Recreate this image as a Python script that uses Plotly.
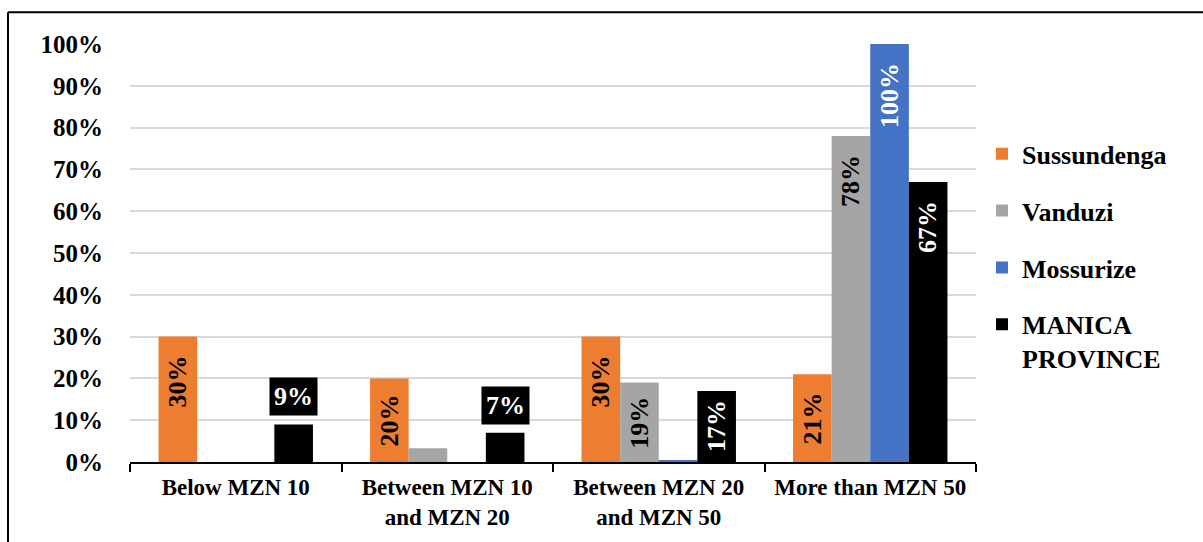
import plotly.graph_objects as go

# ---- data -------------------------------------------------------------
CATEGORIES = [
    "Below MZN 10",
    "Between MZN 10<br>and MZN 20",
    "Between MZN 20<br>and MZN 50",
    "More than MZN 50",
]
SERIES_NAMES = ["Sussundenga", "Vanduzi", "Mossurize", "MANICA<br>PROVINCE"]
SUSSUNDENGA = [0.30, 0.20, 0.30, 0.21]
VANDUZI = [0.00, 0.033, 0.19, 0.78]
MOSSURIZE = [0.00, 0.00, 0.005, 1.00]
MANICA_PROVINCE = [0.09, 0.07, 0.17, 0.67]
Y_TICKS = [i / 10 for i in range(11)]

SERIES_VALUES = [SUSSUNDENGA, VANDUZI, MOSSURIZE, MANICA_PROVINCE]
COLORS = ["#ED7D31", "#A5A5A5", "#4472C4", "#000000"]
LABEL_COLORS = ["#000000", "#000000", "#FFFFFF", "#FFFFFF"]

# ---- layout constants -------------------------------------------------
W, H = 1203, 542
L, R, T, B = 130, 227, 44, 77
PW, PH = W - L - R, H - T - B
BARGAP = 0.27
FONT = "Liberation Serif"

fig = go.Figure()
for name, vals, col in zip(SERIES_NAMES, SERIES_VALUES, COLORS):
    fig.add_trace(go.Bar(
        name=name, x=CATEGORIES, y=vals, marker=dict(color=col, line=dict(width=0)),
        legendgroup=name,
    ))

# ---- data labels ------------------------------------------------------
n = len(SERIES_VALUES)
bw = (1 - BARGAP) / n
annotations = []
for i, (vals, col, tcol) in enumerate(zip(SERIES_VALUES, COLORS, LABEL_COLORS)):
    offset = -(1 - BARGAP) / 2 + (i + 0.5) * bw
    for j, v in enumerate(vals):
        if v < 0.05:
            continue
        text = f"{v * 100:.0f}%"
        base = dict(x=j + offset, xref="x", yref="y", showarrow=False, text=text,
                    font=dict(family=FONT, size=26, color=tcol, weight="bold"))
        if v < 0.12:
            # too short to hold the label: boxed label above the bar
            annotations.append(dict(base, y=v, yanchor="bottom", yshift=8,
                                    bgcolor=col, borderpad=4, textangle=0))
        elif v < 0.25:
            annotations.append(dict(base, y=v / 2, yanchor="middle", textangle=-90))
        else:
            annotations.append(dict(base, y=v, yanchor="top", yshift=-17, textangle=-90))

# ---- outer frame (top and left edges) ----------------------------------
fx0 = (8 - L) / PW
fx1 = (W + 20 - L) / PW
fy1 = 1 + (T - 12) / PH
fy0 = -(B + 20) / PH
shapes = [
    dict(type="line", xref="paper", yref="paper", x0=fx0, x1=fx1, y0=fy1, y1=fy1,
         line=dict(color="black", width=2)),
    dict(type="line", xref="paper", yref="paper", x0=fx0, x1=fx0, y0=fy0, y1=fy1,
         line=dict(color="black", width=2)),
]

fig.update_layout(
    width=W, height=H,
    margin=dict(l=L, r=R, t=T, b=B, pad=0),
    paper_bgcolor="white", plot_bgcolor="white",
    barmode="group", bargap=BARGAP, bargroupgap=0,
    font=dict(family=FONT, size=24, color="black", weight="bold"),
    xaxis=dict(
        type="category", showline=True, linecolor="black", linewidth=1.5,
        ticks="outside", tickson="boundaries", ticklen=8, tickwidth=1.5,
        tickcolor="black", tickangle=0, showgrid=False, ticklabelstandoff=4,
        tickfont=dict(family=FONT, size=23, color="black", weight="bold"),
    ),
    yaxis=dict(
        range=[0, 1], tickvals=Y_TICKS, tickformat=".0%", showline=False,
        showgrid=True, gridcolor="#D9D9D9", gridwidth=1.5, zeroline=False,
        ticks="", ticklabelstandoff=26,
        tickfont=dict(family=FONT, size=25, color="black", weight="bold"),
    ),
    legend=dict(
        x=(982 - L) / PW, xanchor="left", y=1 - (131 - T) / PH, yanchor="top",
        font=dict(family=FONT, size=26, color="black", weight="bold"),
        tracegroupgap=20, valign="top", bgcolor="rgba(0,0,0,0)",
    ),
    annotations=annotations,
    shapes=shapes,
    showlegend=True,
)

fig.write_html("out.html")
